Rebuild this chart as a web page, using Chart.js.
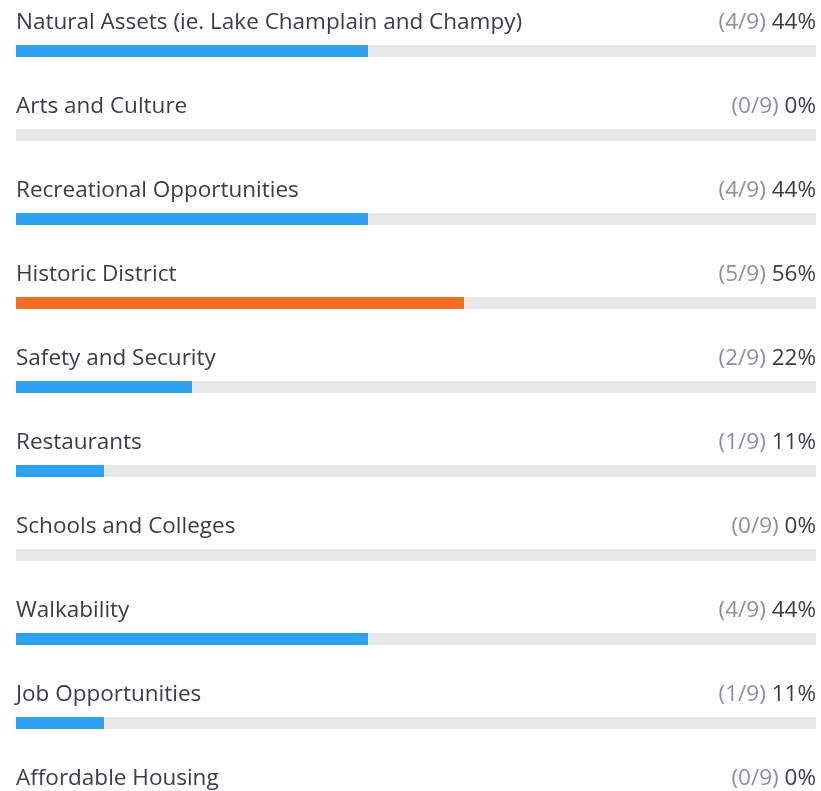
<!DOCTYPE html>
<html>
<head>
<meta charset="utf-8">
<script src="https://cdn.jsdelivr.net/npm/chart.js@4"></script>
<style>
  html, body { margin: 0; padding: 0; background: #fff; overflow: hidden; }
  canvas { display: block; }
</style>
</head>
<body>
<canvas id="myChart" width="821" height="850"></canvas>
<script>
// survey answers, 9 responses in total
const categories = [
  'Natural Assets (ie. Lake Champlain and Champy)',
  'Arts and Culture',
  'Recreational Opportunities',
  'Historic District',
  'Safety and Security',
  'Restaurants',
  'Schools and Colleges',
  'Walkability',
  'Job Opportunities',
  'Affordable Housing'
];
const counts = [4, 0, 4, 5, 2, 1, 0, 4, 1, 0];
const percents = [44, 0, 44, 56, 22, 11, 0, 44, 11, 0];
const total = 9;
const highlight = 'Historic District';

const BLUE = '#2ea2f2';
const ORANGE = '#f26c23';
const TRACK = '#e8e8e8';
const FONT = '"Open Sans", sans-serif';

// draws the answer text above each bar and the (n/9) pct on the right
const rowLabels = {
  id: 'rowLabels',
  afterDatasetsDraw(chart) {
    const ctx = chart.ctx;
    const area = chart.chartArea;
    const yScale = chart.scales.y;
    ctx.save();
    ctx.textBaseline = 'alphabetic';
    ctx.font = '22.5px ' + FONT;
    categories.forEach((cat, i) => {
      const y = yScale.getPixelForValue(i) - 22;
      ctx.textAlign = 'left';
      ctx.fillStyle = '#3c3c44';
      ctx.fillText(cat, area.left, y);

      ctx.textAlign = 'right';
      ctx.fillStyle = '#3c3c44';
      const pct = percents[i] + '%';
      ctx.fillText(pct, area.right, y);
      const pctW = ctx.measureText(' ' + pct).width;
      ctx.fillStyle = '#8e8e98';
      ctx.fillText('(' + counts[i] + '/' + total + ')', area.right - pctW, y);
    });
    ctx.restore();
  }
};

const ctx = document.getElementById('myChart');
new Chart(ctx, {
  type: 'bar',
  data: {
    labels: categories,
    datasets: [
      {
        label: 'Responses',
        data: percents,
        backgroundColor: categories.map(c => c === highlight ? ORANGE : BLUE),
        barThickness: 12,
        inflateAmount: 0,
        grouped: false
      },
      {
        label: 'Track',
        data: categories.map(() => 100),
        backgroundColor: TRACK,
        barThickness: 12,
        inflateAmount: 0,
        grouped: false
      }
    ]
  },
  options: {
    indexAxis: 'y',
    responsive: false,
    animation: false,
    layout: { padding: { left: 16, right: 5, top: 9, bottom: 1 } },
    scales: {
      x: { display: false, min: 0, max: 100 },
      y: { display: false }
    },
    plugins: {
      legend: { display: false },
      tooltip: { enabled: false }
    }
  },
  plugins: [rowLabels]
});
</script>
</body>
</html>
